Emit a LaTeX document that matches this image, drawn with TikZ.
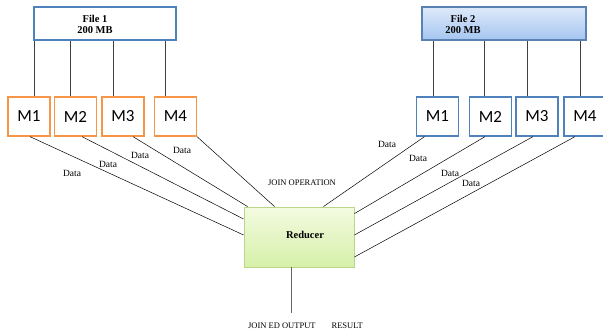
\documentclass[tikz,border=0pt]{standalone}
\usepackage{fontspec}
\setmainfont{Liberation Serif}
\newfontfamily\mapfont{Carlito}
\usetikzlibrary{shadows}

\definecolor{maporange}{RGB}{247,150,70}
\definecolor{mapblue}{RGB}{79,129,189}
\definecolor{filetop}{RGB}{222,233,250}
\definecolor{filebot}{RGB}{165,198,240}
\definecolor{redtop}{RGB}{243,251,225}
\definecolor{redbot}{RGB}{214,240,168}
\definecolor{redline}{RGB}{185,215,135}

\tikzset{
  mapbox/.style={draw, line width=1.3pt, minimum width=42pt, minimum height=39pt,
    inner sep=0pt, font=\mapfont\fontsize{17}{19}\selectfont},
  mapleft/.style={mapbox, draw=maporange},
  mapright/.style={mapbox, draw=mapblue},
  filebox/.style={draw=mapblue, line width=1.2pt, minimum width=142pt, minimum height=33pt, inner sep=0pt},
  filetxt/.style={align=center, inner sep=0pt, font=\bfseries\fontsize{10.5}{11}\selectfont},
  datalbl/.style={inner sep=0pt, font=\fontsize{9.5}{11}\selectfont},
  joinlbl/.style={inner sep=0pt, font=\fontsize{8.5}{10}\selectfont},
  wire/.style={line width=0.5pt},
  feed/.style={line width=0.7pt, black!75}
}

\begin{document}
\begin{tikzpicture}[x=1pt,y=-1pt]
    \useasboundingbox (0,0) rectangle (603,332);
    % the two files
    \node[filebox] (f1) at (105,23.5) {};
    \node[filetxt] (f1txt) at (95,24.5) {File 1\\200 MB};
    \node[filebox, draw=mapblue!80!gray, minimum width=164pt, top color=filetop, bottom color=filebot,
      drop shadow={shadow xshift=0.8pt, shadow yshift=-1.2pt, fill=gray!60}] (f2) at (504,23.5) {};
    \node[filetxt] (f2txt) at (463,24.5) {File 2\\200 MB};
    %\\
    \node[mapleft] (lm1) at (29,116.5) {M1};
    \node[mapleft] (lm2) at (75.5,116.5) {M2};
    \node[mapleft] (lm3) at (123,116.5) {M3};
    \node[mapleft] (lm4) at (175.5,116.5) {M4};
    \node[mapright] (rm1) at (437.5,116.5) {M1};
    \node[mapright] (rm2) at (490.5,116.5) {M2};
    \node[mapright] (rm3) at (537,116.5) {M3};
    \node[mapright] (rm4) at (585,116.5) {M4};
    % splits
    \draw[feed] ([xshift=5pt]lm1.north) -- ([xshift=5pt]lm1.north |- f1.south);
    \draw[feed] ([xshift=-5.5pt]lm2.north) -- ([xshift=-5.5pt]lm2.north |- f1.south);
    \draw[feed] ([xshift=-10pt]lm3.north) -- ([xshift=-10pt]lm3.north |- f1.south);
    \draw[feed] ([xshift=-10.5pt]lm4.north) -- ([xshift=-10.5pt]lm4.north |- f1.south);
    \draw[feed] ([xshift=-4.5pt]rm1.north) -- ([xshift=-4.5pt]rm1.north |- f2.south);
    \draw[feed] ([xshift=-6.5pt]rm2.north) -- ([xshift=-6.5pt]rm2.north |- f2.south);
    \draw[feed] ([xshift=-10pt]rm3.north) -- ([xshift=-10pt]rm3.north |- f2.south);
    \draw[feed] ([xshift=-5pt]rm4.north) -- ([xshift=-5pt]rm4.north |- f2.south);
    %\\
    \node[draw=redline, line width=0.8pt, minimum width=110pt, minimum height=60pt,
      top color=redtop, bottom color=redbot,
      drop shadow={shadow xshift=1pt, shadow yshift=-1.2pt, fill=gray!50},
      font=\bfseries\fontsize{10.5}{12}\selectfont] (red) at (299,237) {};
    \node[inner sep=0pt, font=\bfseries\fontsize{10.5}{12}\selectfont] (redtxt) at (305,235) {Reducer};
    % map outputs into the reducer
    \draw[wire] ([xshift=1pt]lm1.south) -- ([yshift=2pt]red.west);
    \draw[wire] ([xshift=6.5pt]lm2.south) -- ([yshift=18pt]red.west);
    \draw[wire] ([xshift=10pt]lm3.south) -- ([xshift=4pt]red.north west);
    \draw[wire] ([xshift=21.5pt]lm4.south) -- ([xshift=31pt]red.north west);
    \draw[wire] ([xshift=-13pt]rm1.south) -- ([xshift=-31pt]red.north east);
    \draw[wire] ([xshift=-5.5pt]rm2.south) -- ([yshift=-7pt]red.north east);
    \draw[wire] ([xshift=-4pt]rm3.south) -- ([yshift=2pt]red.east);
    \draw[wire] ([xshift=-10pt]rm4.south) -- ([yshift=-20pt]red.east);
    \node[datalbl] (d1) at (72,173) {Data};
    \node[datalbl] (d2) at (108,164) {Data};
    \node[datalbl] (d3) at (140,155) {Data};
    \node[datalbl] (d4) at (182,150) {Data};
    \node[datalbl] (d5) at (387,144) {Data};
    \node[datalbl] (d6) at (418,158) {Data};
    \node[datalbl] (d7) at (450,173) {Data};
    \node[datalbl] (d8) at (471,183) {Data};
    \node[joinlbl] (joinop) at (302,183) {JOIN OPERATION};
    %\\
    \coordinate (outend) at (291,313);
    \draw[feed, black!60] ([xshift=-8pt]red.south) -- (outend);
    \node[joinlbl] (result) at (305.5,326) {JOIN ED OUTPUT\hspace{16pt}RESULT};
\end{tikzpicture}
\end{document}
